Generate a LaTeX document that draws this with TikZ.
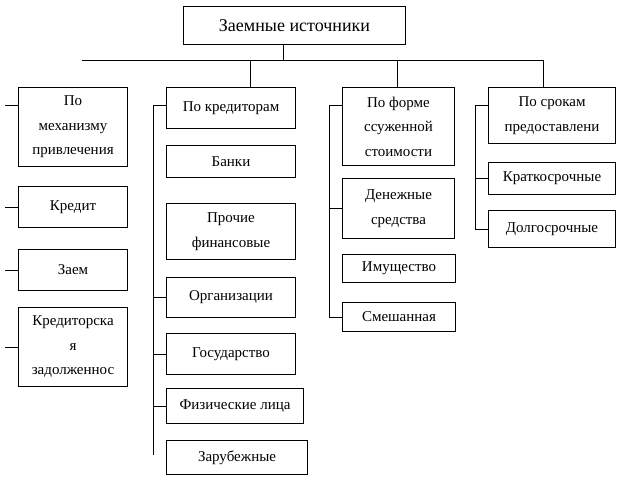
\documentclass[tikz,border=0pt]{standalone}
\usepackage{fontspec}
\setmainfont{Liberation Serif}
\usetikzlibrary{positioning}

\tikzset{
    box/.style={draw, line width=1pt, anchor=north west, align=center, inner sep=0pt,
                font=\fontsize{15}{24.5}\selectfont},
    link/.style={line width=1pt},
}

\begin{document}
\begin{tikzpicture}[x=1pt, y=-1pt]
    \useasboundingbox (0,0) rectangle (617,480);
    \node[box, minimum width=222pt, minimum height=38pt, font=\fontsize{18}{22}\selectfont] (root) at (183,6) {Заемные источники};

    \node[box, minimum width=109pt, minimum height=79pt] (mech) at (18,87) {По\\механизму\\привлечения};
    \node[box, minimum width=109pt, minimum height=41pt] (kredit) at (18,186) {Кредит};
    \node[box, minimum width=109pt, minimum height=41pt] (zaem) at (18,249) {Заем};
    \node[box, minimum width=109pt, minimum height=79pt] (zadol) at (18,307) {Кредиторска\\я\\задолженнос};

    \node[box, minimum width=129pt, minimum height=41pt] (kred) at (166,87) {По кредиторам};
    \node[box, minimum width=129pt, minimum height=32pt] (banki) at (166,145) {Банки};
    \node[box, minimum width=129pt, minimum height=56pt] (proch) at (166,203) {Прочие\\финансовые};
    \node[box, minimum width=129pt, minimum height=40pt] (org) at (166,277) {Организации};
    \node[box, minimum width=129pt, minimum height=41pt] (gos) at (166,333) {Государство};
    \node[box, minimum width=137pt, minimum height=35pt] (fiz) at (166,388) {Физические лица};
    \node[box, minimum width=141pt, minimum height=34pt] (zar) at (166,440) {Зарубежные};

    \node[box, minimum width=112pt, minimum height=78pt] (forma) at (342,87) {По форме\\ссуженной\\стоимости};
    \node[box, minimum width=112pt, minimum height=60pt] (den) at (342,178) {Денежные\\средства};
    \node[box, minimum width=113pt, minimum height=28pt] (imu) at (342,254) {Имущество};
    \node[box, minimum width=113pt, minimum height=29pt] (smesh) at (342,302) {Смешанная};

    \node[box, minimum width=127pt, minimum height=56pt] (sroki) at (488,87) {По срокам\\предоставлени};
    \node[box, minimum width=127pt, minimum height=32pt] (krat) at (488,162) {Краткосрочные};
    \node[box, minimum width=127pt, minimum height=37pt] (dolg) at (488,210) {Долгосрочные};

    \coordinate (bl) at (82,60);
    \coordinate (br) at (543,60);
    \coordinate (r0) at (283,60);
    \coordinate (d2) at (250,60);
    \coordinate (d3) at (397,60);
    \draw[link] (bl) -- (br);
    \draw[link] (root.south -| r0) -- (r0);
    \draw[link] (d2) -- (d2 |- kred.north);
    \draw[link] (d3) -- (d3 |- forma.north);
    \draw[link] (br) -- (br |- sroki.north);

    \coordinate (l1) at (5,105);
    \draw[link] (l1) -- (l1 -| mech.west);
    \draw[link] (kredit.west) -- (kredit.west -| l1);
    \draw[link] (zaem.west) -- (zaem.west -| l1);
    \draw[link] (zadol.west) -- (zadol.west -| l1);

    \coordinate (t2) at (153,105);
    \coordinate (b2) at (153,455);
    \draw[link] (b2) -- (t2) -- (t2 -| kred.west);
    \draw[link] (org.west) -- (org.west -| t2);
    \draw[link] (gos.west) -- (gos.west -| t2);
    \draw[link] (fiz.west) -- (fiz.west -| t2);

    \coordinate (t3) at (329,105);
    \draw[link] (t3 -| forma.west) -- (t3) |- (smesh.west);
    \draw[link] (den.west) -- (den.west -| t3);

    \coordinate (t4) at (475,105);
    \draw[link] (t4 -| sroki.west) -- (t4) |- (dolg.west);
    \draw[link] (krat.west) -- (krat.west -| t4);
\end{tikzpicture}
\end{document}
